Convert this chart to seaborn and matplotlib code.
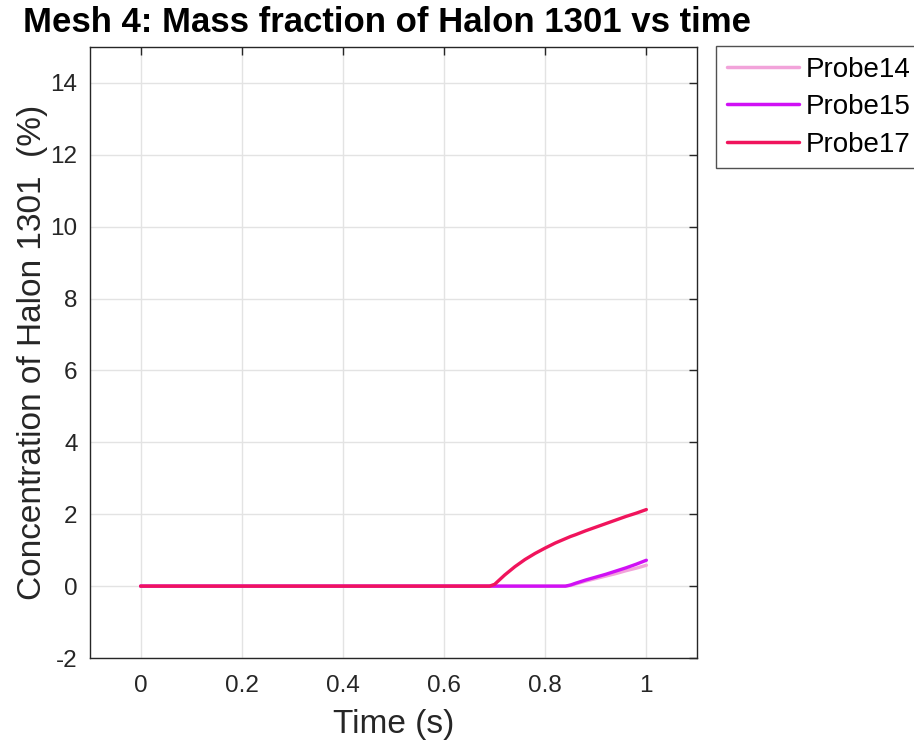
import matplotlib
matplotlib.use("Agg")
import matplotlib.pyplot as plt
import seaborn as sns
import pandas as pd

time_s = [0.0, 0.5, 0.69, 0.70, 0.71, 0.72, 0.74, 0.76, 0.78, 0.80, 0.82, 0.84,
          0.85, 0.86, 0.88, 0.90, 0.92, 0.94, 0.96, 0.98, 1.0]
probe14 = [0, 0, 0, 0, 0, 0, 0, 0, 0, 0, 0, 0,
           0.02, 0.06, 0.14, 0.21, 0.28, 0.35, 0.43, 0.50, 0.58]
probe15 = [0, 0, 0, 0, 0, 0, 0, 0, 0, 0, 0, 0,
           0.03, 0.08, 0.17, 0.25, 0.33, 0.42, 0.51, 0.61, 0.72]
probe17 = [0, 0, 0, 0.05, 0.18, 0.31, 0.54, 0.74, 0.91, 1.06, 1.20, 1.32,
           1.38, 1.43, 1.54, 1.64, 1.74, 1.84, 1.94, 2.03, 2.13]
series_names = ["Probe14", "Probe15", "Probe17"]
colors = ["#F2A3DA", "#D010F5", "#F0145C"]
x_ticks = [0, 0.2, 0.4, 0.6, 0.8, 1.0]
x_tick_labels = ["0", "0.2", "0.4", "0.6", "0.8", "1"]
y_ticks = [-2, 0, 2, 4, 6, 8, 10, 12, 14]

sns.set_style("white")
plt.rcParams["font.family"] = ["Liberation Sans", "DejaVu Sans"]
plt.rcParams["axes.unicode_minus"] = False

df = pd.concat([
    pd.DataFrame({"Time": time_s, "Value": vals, "Probe": name})
    for name, vals in zip(series_names, [probe14, probe15, probe17])
])

fig = plt.figure(figsize=(9.14, 7.42), dpi=100)
ax = fig.add_axes([0.0985, 0.1132, 0.664, 0.8235])
sns.lineplot(data=df, x="Time", y="Value", hue="Probe", hue_order=series_names,
             palette=colors, linewidth=2.4, ax=ax, sort=False, estimator=None)

ax.set_xlim(-0.1, 1.1)
ax.set_ylim(-2, 15)
ax.set_xticks(x_ticks)
ax.set_xticklabels(x_tick_labels)
ax.set_yticks(y_ticks)
ax.grid(True, color="#E3E3E3", linewidth=1.0)
ax.set_axisbelow(True)
for s in ax.spines.values():
    s.set_color("#262626")
    s.set_linewidth(1.0)
ax.tick_params(direction="in", length=6, width=1.0, colors="#262626",
               labelsize=17.5, top=True, right=True)
ax.tick_params(axis="x", pad=12)
ax.tick_params(axis="y", pad=9)
ax.set_xlabel("Time (s)", fontsize=24, color="#262626", labelpad=9)
ax.set_ylabel("Concentration of Halon 1301  (%)", fontsize=24, color="#262626",
              labelpad=2)
fig.text(23 / 914, 1 - 32 / 742, "Mesh 4: Mass fraction of Halon 1301 vs time",
         fontsize=25, fontweight="bold", color="black", ha="left", va="baseline")

leg = ax.legend(loc="upper left", bbox_to_anchor=(716 / 914, 1 - 46 / 742),
                bbox_transform=fig.transFigure, fontsize=20, frameon=True,
                fancybox=False, edgecolor="#262626", handlelength=2.6,
                handletextpad=0.25, borderpad=0.38, labelspacing=0.42,
                borderaxespad=0)
leg.get_frame().set_linewidth(1.0)
for line in leg.get_lines():
    line.set_linewidth(2.5)
for txt in leg.get_texts():
    txt.set_color("black")

fig.savefig("out.png", dpi=100)
